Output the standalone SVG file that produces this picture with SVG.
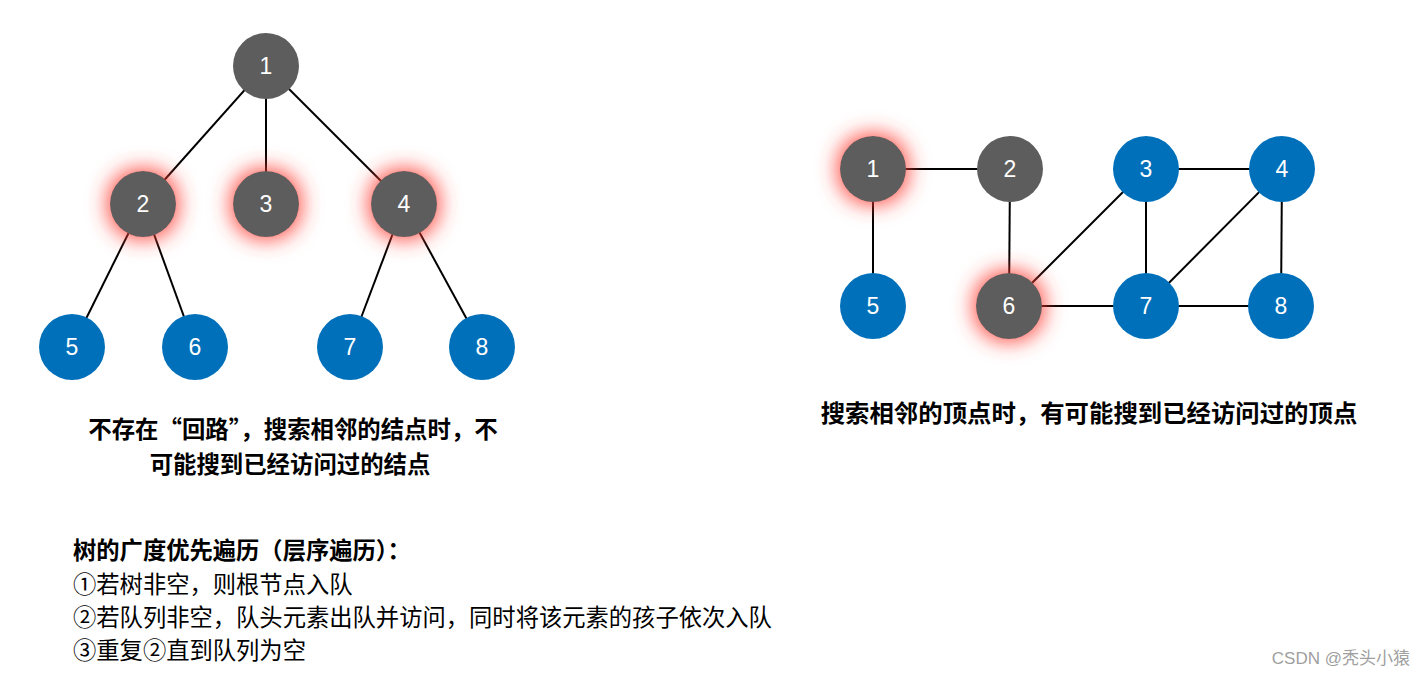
<svg xmlns="http://www.w3.org/2000/svg" width="1426" height="676" viewBox="0 0 1426 676">
<defs>
<filter id="glow" x="-80%" y="-80%" width="260%" height="260%">
<feMorphology in="SourceAlpha" operator="dilate" radius="3" result="d"/>
<feGaussianBlur in="d" stdDeviation="10" result="b"/>
<feFlood flood-color="#ff3b30" flood-opacity="0.85"/>
<feComposite in2="b" operator="in" result="g"/>
<feMerge><feMergeNode in="g"/><feMergeNode in="SourceGraphic"/></feMerge>
</filter>
</defs>
<style>
.g{fill:#5d5d5d}
.b{fill:#0070ba}
.n text{fill:#fff;font-family:"Liberation Sans",Arial,sans-serif;font-size:23px;text-anchor:middle;dominant-baseline:central}
.e line{stroke:#000;stroke-width:2}
.cap{font-family:"Noto Sans CJK SC",sans-serif;font-size:23.4px;font-weight:bold;fill:#000;text-anchor:middle}
.cap2{font-size:24.4px}
.body{font-family:"Noto Sans CJK SC",sans-serif;font-size:23.3px;fill:#000}
</style>
<rect width="1426" height="676" fill="#fff"/>
<g id="connectors" class="e">
<line x1="266" y1="66" x2="143" y2="204"/>
<line x1="266" y1="66" x2="266" y2="204"/>
<line x1="266" y1="66" x2="404" y2="204"/>
<line x1="143" y1="204" x2="72" y2="347"/>
<line x1="143" y1="204" x2="195" y2="347"/>
<line x1="404" y1="204" x2="350" y2="347"/>
<line x1="404" y1="204" x2="482" y2="347"/>
<line x1="873" y1="169" x2="1010" y2="169"/>
<line x1="873" y1="169" x2="873" y2="306"/>
<line x1="1010" y1="169" x2="1009" y2="306"/>
<line x1="1009" y1="306" x2="1146" y2="169"/>
<line x1="1009" y1="306" x2="1146" y2="306"/>
<line x1="1146" y1="169" x2="1282" y2="169"/>
<line x1="1146" y1="169" x2="1146" y2="306"/>
<line x1="1282" y1="169" x2="1146" y2="306"/>
<line x1="1282" y1="169" x2="1281" y2="306"/>
<line x1="1146" y1="306" x2="1281" y2="306"/>
</g>
<g id="t1" class="n"><circle class="g" cx="266" cy="66" r="33"/><text x="266" y="66">1</text></g>
<g id="t2" class="n"><circle class="g" cx="143" cy="204" r="33" filter="url(#glow)"/><text x="143" y="204">2</text></g>
<g id="t3" class="n"><circle class="g" cx="266" cy="204" r="33" filter="url(#glow)"/><text x="266" y="204">3</text></g>
<g id="t4" class="n"><circle class="g" cx="404" cy="204" r="33" filter="url(#glow)"/><text x="404" y="204">4</text></g>
<g id="t5" class="n"><circle class="b" cx="72" cy="347" r="33"/><text x="72" y="347">5</text></g>
<g id="t6" class="n"><circle class="b" cx="195" cy="347" r="33"/><text x="195" y="347">6</text></g>
<g id="t7" class="n"><circle class="b" cx="350" cy="347" r="33"/><text x="350" y="347">7</text></g>
<g id="t8" class="n"><circle class="b" cx="482" cy="347" r="33"/><text x="482" y="347">8</text></g>
<g id="g1" class="n"><circle class="g" cx="873" cy="169" r="33" filter="url(#glow)"/><text x="873" y="169">1</text></g>
<g id="g2" class="n"><circle class="g" cx="1010" cy="169" r="33"/><text x="1010" y="169">2</text></g>
<g id="g3" class="n"><circle class="b" cx="1146" cy="169" r="33"/><text x="1146" y="169">3</text></g>
<g id="g4" class="n"><circle class="b" cx="1282" cy="169" r="33"/><text x="1282" y="169">4</text></g>
<g id="g5" class="n"><circle class="b" cx="873" cy="306" r="33"/><text x="873" y="306">5</text></g>
<g id="g6" class="n"><circle class="g" cx="1009" cy="306" r="33" filter="url(#glow)"/><text x="1009" y="306">6</text></g>
<g id="g7" class="n"><circle class="b" cx="1146" cy="306" r="33"/><text x="1146" y="306">7</text></g>
<g id="g8" class="n"><circle class="b" cx="1281" cy="306" r="33"/><text x="1281" y="306">8</text></g>
<text class="cap" x="293" y="438">不存在“回路”，搜索相邻的结点时，不</text>
<text class="cap" x="290" y="473">可能搜到已经访问过的结点</text>
<text class="cap cap2" x="1089" y="422">搜索相邻的顶点时，有可能搜到已经访问过的顶点</text>
<text class="body" x="73" y="559" font-weight="bold">树的广度优先遍历（层序遍历）：</text>
<text class="body" x="73" y="593">①若树非空，则根节点入队</text>
<text class="body" x="73" y="626">②若队列非空，队头元素出队并访问，同时将该元素的孩子依次入队</text>
<text class="body" x="73" y="659">③重复②直到队列为空</text>
<text x="1410" y="664" text-anchor="end" font-family="'Liberation Sans','Noto Sans CJK SC',sans-serif" font-size="17" fill="#a0a0a0">CSDN @秃头小猿</text>
</svg>
